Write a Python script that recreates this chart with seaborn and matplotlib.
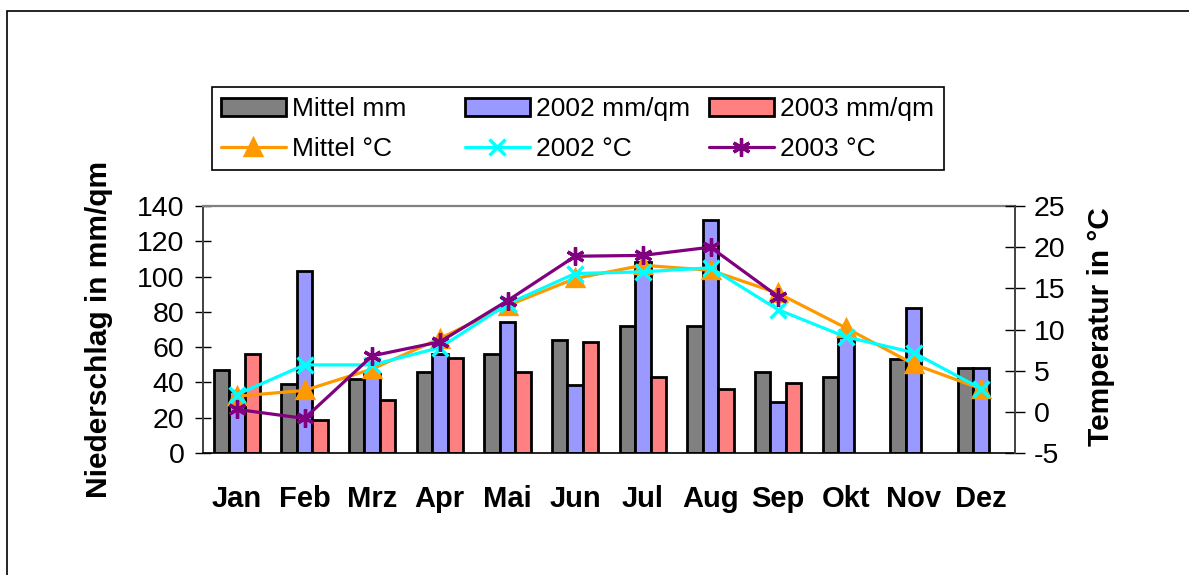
import numpy as np
import pandas as pd
import matplotlib
matplotlib.use("Agg")
import matplotlib.pyplot as plt
from matplotlib.patches import Patch, Rectangle
from matplotlib.lines import Line2D
import seaborn as sns

# ---------------- data ----------------
months = ["Jan", "Feb", "Mrz", "Apr", "Mai", "Jun", "Jul", "Aug", "Sep", "Okt", "Nov", "Dez"]
rain_mittel = [47, 39, 42, 46, 56, 64, 72, 72, 46, 43, 53, 48]
rain_2002 = [35, 103, 45, 56, 74, 38.5, 108, 132, 29, 66, 82, 48]
rain_2003 = [56, 18.5, 30, 54, 46, 63, 43, 36, 39.5, np.nan, np.nan, np.nan]
temp_mittel = [1.9, 2.6, 5.2, 8.9, 12.9, 16.2, 17.8, 17.2, 14.4, 10.2, 5.8, 2.8]
temp_2002 = [2.1, 5.7, 5.7, 7.8, 13.1, 16.8, 17.0, 17.5, 12.4, 9.1, 7.2, 2.8]
temp_2003 = [0.3, -0.8, 6.8, 8.5, 13.5, 18.9, 19.0, 20.0, 14.0, np.nan, np.nan, np.nan]
bar_labels = ["Mittel mm", "2002 mm/qm", "2003 mm/qm"]
line_labels = ["Mittel °C", "2002 °C", "2003 °C"]
left_ticks = [0, 20, 40, 60, 80, 100, 120, 140]
right_ticks = [-5, 0, 5, 10, 15, 20, 25]

# ---------------- style ----------------
bar_colors = ["#808080", "#9999FF", "#FF8080"]
line_colors = ["#FF9900", "#00FFFF", "#800080"]
line_markers = ["^", "x", (6, 2, 0)]
line_msize = [12, 12, 13]

sns.set_style("white")
plt.rcParams["font.family"] = ["Liberation Sans", "DejaVu Sans"]
plt.rcParams["text.color"] = "black"
plt.rcParams["axes.labelcolor"] = "black"
plt.rcParams["xtick.color"] = "black"
plt.rcParams["ytick.color"] = "black"
plt.rcParams["axes.unicode_minus"] = False

W, H = 1189, 575
fig = plt.figure(figsize=(W / 100, H / 100), dpi=100)
ax = fig.add_axes([203 / W, 1 - 453 / H, (1015 - 203) / W, (453 - 206) / H])

df = pd.DataFrame({
    "Monat": months * 3,
    "mm": rain_mittel + rain_2002 + rain_2003,
    "Reihe": sum([[lab] * len(months) for lab in bar_labels], []),
})
sns.barplot(data=df, x="Monat", y="mm", hue="Reihe", hue_order=bar_labels,
            order=months, palette=bar_colors, saturation=1, width=0.68, gap=0,
            edgecolor="black", linewidth=2.0, legend=False, ax=ax, zorder=2)

ax2 = ax.twinx()
pos = np.arange(len(months))
temps = [temp_mittel, temp_2002, temp_2003]
for vals, c, m, ms in zip(temps, line_colors, line_markers, line_msize):
    sns.lineplot(x=pos, y=np.array(vals, dtype=float), color=c, marker=m,
                 markersize=ms, markeredgewidth=2.4, markeredgecolor=c,
                 linewidth=2.3, ax=ax2)

# axes limits and ticks
ax.set_xlim(-0.5, len(months) - 0.5)
ax.set_ylim(0, 140)
ax.set_yticks(left_ticks)
ax2.set_ylim(-5, 25)
ax2.set_yticks(right_ticks)

ax.set_xticks(pos)
ax.set_xticklabels(months, fontsize=21, fontweight="bold")
ax.tick_params(axis="x", which="major", length=0, pad=23)
ax.set_xticks(np.arange(len(months) + 1) - 0.5, minor=True)
ax.tick_params(axis="x", which="minor", direction="inout", length=14, width=1, color="black")

ax.tick_params(axis="y", direction="inout", length=11, width=1, color="black",
               labelsize=20.5, pad=8, left=True)
ax2.tick_params(axis="y", direction="inout", length=14.5, width=1, color="black",
                labelsize=20.5, pad=6, right=True)

ax.set_xlabel("")
ax.set_ylabel("Niederschlag in mm/qm", fontsize=21.5, fontweight="bold")
ax.yaxis.label.set_va("center")
ax.yaxis.set_label_coords((99 - 203) / 812, 0.5)
ax2.set_ylabel("Temperatur in °C", fontsize=21.5, fontweight="bold")
ax2.yaxis.label.set_va("center")
ax2.yaxis.set_label_coords((1101 - 203) / 812, 0.51)

# spines
for s in ["left", "right", "top", "bottom"]:
    ax2.spines[s].set_visible(False)
ax2.spines["right"].set_visible(True)
ax2.spines["right"].set_color("#404040")
ax2.spines["right"].set_linewidth(1.4)
ax.spines["right"].set_visible(False)
ax.spines["top"].set_color("#808080")
ax.spines["top"].set_linewidth(1.6)
ax.spines["left"].set_color("#404040")
ax.spines["left"].set_linewidth(1.4)
ax.spines["bottom"].set_color("black")
ax.spines["bottom"].set_linewidth(1.2)

# legend (Excel style: equal-width cells in a box)
handles_bar = [Patch(facecolor=c, edgecolor="black", linewidth=2.0) for c in bar_colors]
handles_line = [Line2D([0], [0], color=c, marker=m, markersize=ms, markeredgewidth=2.4,
                       markeredgecolor=c, linewidth=2.3)
                for c, m, ms in zip(line_colors, line_markers, line_msize)]
col_x = [221, 465, 709]
row_y = [109, 149.5]
for i in range(3):
    for hdl, lab, yy in [(handles_bar[i], bar_labels[i], row_y[0]),
                         (handles_line[i], line_labels[i], row_y[1])]:
        fig.legend([hdl], [lab], loc="center left",
                   bbox_to_anchor=(col_x[i] / W, 1 - yy / H),
                   frameon=False, fontsize=19, borderpad=0, borderaxespad=0,
                   handlelength=2.45, handletextpad=0.24, handleheight=0.7)
fig.patches.append(Rectangle((212 / W, 1 - 170 / H), (944 - 212) / W, (170 - 87) / H,
                             transform=fig.transFigure, fill=False, edgecolor="black",
                             linewidth=1.2))
# outer chart border
fig.patches.append(Rectangle((7 / W, -0.05), 1.1, 1 - 11 / H + 0.05,
                             transform=fig.transFigure, fill=False, edgecolor="black",
                             linewidth=1.2))

fig.savefig("out.png", dpi=100)
